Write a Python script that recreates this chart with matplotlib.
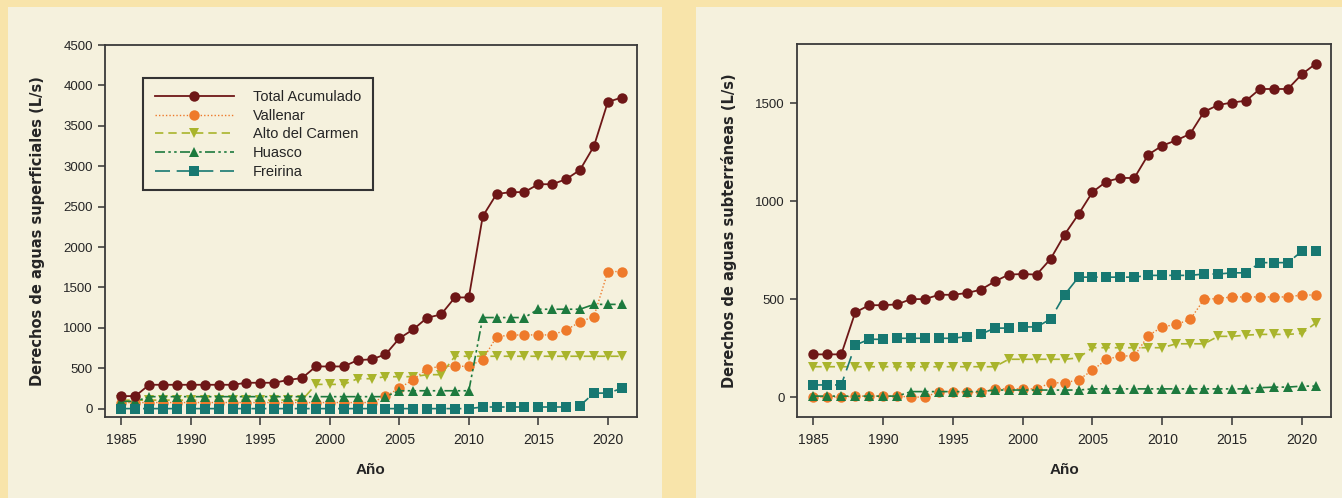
import matplotlib
matplotlib.use("Agg")
import matplotlib.pyplot as plt
from matplotlib.patches import Rectangle

plt.rcParams['font.family'] = ['Liberation Sans', 'DejaVu Sans']

years = list(range(1985, 2022))

# Aguas superficiales (L/s)
sup_total = [155, 155, 295, 295, 295, 295, 295, 295, 295, 320, 320, 320, 355, 378,
             522, 522, 522, 600, 610, 670, 870, 980, 1125, 1165, 1376, 1376,
             2380, 2657, 2678, 2680, 2777, 2777, 2839, 2954, 3248, 3795, 3850]
sup_vallenar = [75]*19 + [150, 254, 358, 495, 524, 524, 524, 607, 890, 910, 912, 912,
                          912, 973, 1073, 1140, 1696, 1696]
sup_alto = [105]*14 + [300, 300, 300, 370, 370, 395, 395, 395, 420, 420] + [648]*13
sup_huasco = [90, 90] + [148]*18 + [221]*6 + [1127]*4 + [1230]*4 + [1290]*3
sup_freirina = [0]*26 + [20]*7 + [37, 192, 192, 250]

# Aguas subterráneas (L/s)
sub_total = [218, 218, 218, 432, 469, 469, 473, 500, 500, 522, 522, 531, 548, 590,
             625, 628, 625, 705, 829, 933, 1046, 1100, 1118, 1118, 1237, 1283,
             1310, 1343, 1456, 1490, 1503, 1512, 1572, 1572, 1572, 1647, 1701]
sub_vallenar = [0, 0, 0, 5, 5, 5, 5, 0, 0, 28, 28, 25, 25, 42, 42, 42, 42, 73, 73,
                88, 137, 192, 210, 210, 314, 358, 371, 396, 499, 503, 511, 511,
                511, 511, 511, 521, 521]
sub_alto = [155]*14 + [193]*5 + [200] + [252]*6 + [272]*3 + [310, 310, 316,
                                                           320, 320, 320, 325, 378]
sub_huasco = [5]*7 + [28]*6 + [36]*7 + [42]*12 + [48, 51, 51, 56, 56]
sub_freirina = [62, 62, 62, 265, 295, 295, 300, 300, 300, 300, 300, 309, 321, 352,
                352, 358, 358, 398, 522, 612, 612, 612, 612, 612, 621, 621, 621,
                621, 628, 628, 634, 634, 686, 686, 686, 744, 744]

labels = ["Total Acumulado", "Vallenar", "Alto del Carmen", "Huasco", "Freirina"]
xticks = [1985, 1990, 1995, 2000, 2005, 2010, 2015, 2020]

C_TOTAL = "#6E1717"
C_VALL = "#EE7A2B"
C_ALTO = "#A9B42C"
C_HUAS = "#1D7A3E"
C_FREI = "#177871"

BG_OUT = "#F8E4AA"
BG_PANEL = "#F5F1DD"
TXT = "#252525"

W, H = 1342, 498
fig = plt.figure(figsize=(W/100, H/100), dpi=100, facecolor=BG_OUT)

fig.patches.append(Rectangle((8/W, 0), (662-8)/W, (H-7)/H, transform=fig.transFigure,
                             facecolor=BG_PANEL, edgecolor='none', zorder=-10))
fig.patches.append(Rectangle((696/W, 0), (W-696)/W, (H-7)/H, transform=fig.transFigure,
                             facecolor=BG_PANEL, edgecolor='none', zorder=-10))

def make_ax(left_px, right_px, top_px, bottom_px):
    return fig.add_axes([left_px/W, 1-bottom_px/H, (right_px-left_px)/W, (bottom_px-top_px)/H])

ax1 = make_ax(105.4, 636.6, 45, 416.7)
ax2 = make_ax(797.3, 1330.7, 44.3, 416.7)

styles = {
    "Total Acumulado": dict(color=C_TOTAL, linestyle='-', marker='o', ms=7.5, lw=1.3),
    "Vallenar": dict(color=C_VALL, linestyle=(0, (1, 1.5)), marker='o', ms=7.5, lw=1.0),
    "Alto del Carmen": dict(color=C_ALTO, linestyle=(0, (5, 3)), marker='v', ms=7.5, lw=1.2),
    "Huasco": dict(color=C_HUAS, linestyle=(0, (6, 2, 1.5, 2, 1.5, 2)), marker='^', ms=7.5, lw=1.2),
    "Freirina": dict(color=C_FREI, linestyle=(0, (9, 4)), marker='s', ms=6.8, lw=1.2),
}

def draw(ax, data, ylim, yticks, ylabel):
    ax.set_facecolor(BG_PANEL)
    order = ["Alto del Carmen", "Vallenar", "Huasco", "Freirina", "Total Acumulado"]
    handles = {}
    for name in order:
        st = styles[name]
        h, = ax.plot(years, data[name], color=st['color'], linestyle=st['linestyle'],
                     lw=st['lw'], marker=st['marker'], markersize=st['ms'],
                     markeredgewidth=0, label=name)
        handles[name] = h
    ax.set_xlim(1983.85, 2022.07)
    ax.set_ylim(*ylim)
    ax.set_xticks(xticks)
    ax.set_yticks(yticks)
    ax.tick_params(axis='x', direction='out', length=6, width=1.1, colors='#333333',
                   labelsize=10, labelcolor=TXT, pad=6)
    ax.tick_params(axis='y', direction='out', length=5, width=1.1, colors='#333333',
                   labelsize=9.5, labelcolor=TXT, pad=4)
    for s in ax.spines.values():
        s.set_color('#3a3a3a')
        s.set_linewidth(1.3)
    ax.set_xlabel("Año", fontsize=11, fontweight='bold', color=TXT, labelpad=11)
    ax.set_ylabel(ylabel, fontsize=10.5, fontweight='bold', color=TXT, labelpad=13,
                  family=['DejaVu Sans'])
    return handles

h1 = draw(ax1, {"Total Acumulado": sup_total, "Vallenar": sup_vallenar,
                "Alto del Carmen": sup_alto, "Huasco": sup_huasco,
                "Freirina": sup_freirina},
          (-100, 4500), list(range(0, 4501, 500)),
          "Derechos de aguas superficiales (L/s)")
h2 = draw(ax2, {"Total Acumulado": sub_total, "Vallenar": sub_vallenar,
                "Alto del Carmen": sub_alto, "Huasco": sub_huasco,
                "Freirina": sub_freirina},
          (-100, 1800), [0, 500, 1000, 1500],
          "Derechos de aguas subterráneas (L/s)")

leg = ax1.legend([h1[n] for n in labels], labels, loc='upper left',
                 bbox_to_anchor=(0.0713, 0.910), borderaxespad=0, fontsize=10.5,
                 handlelength=5.4, handletextpad=1.3, labelspacing=0.32,
                 numpoints=1, fancybox=False, framealpha=1, facecolor=BG_PANEL,
                 edgecolor='#333333', borderpad=0.8)
leg.get_frame().set_linewidth(1.5)
for t in leg.get_texts():
    t.set_color(TXT)

fig.savefig("out.png", dpi=100, facecolor=BG_OUT)
